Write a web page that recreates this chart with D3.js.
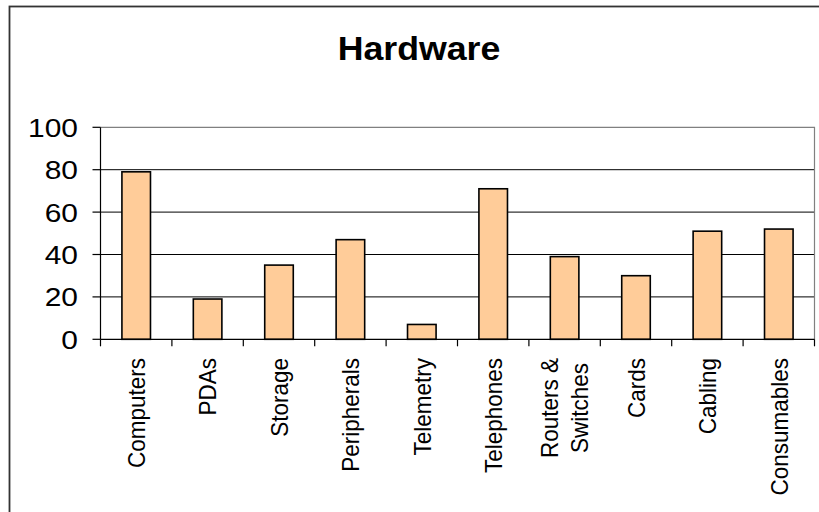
<!DOCTYPE html>
<html>
<head>
<meta charset="utf-8">
<script src="https://cdn.jsdelivr.net/npm/d3@7"></script>
<style>
  html, body { margin: 0; padding: 0; background: #fff; }
  svg { display: block; font-family: Arial, "Liberation Sans", Helvetica, sans-serif; }
</style>
</head>
<body>
<svg id="chart" width="819" height="512"></svg>
<script>
// Hardware chart data
const categories = ["Computers", "PDAs", "Storage", "Peripherals", "Telemetry",
                    "Telephones", "Routers & Switches", "Cards", "Cabling", "Consumables"];
const values = [79, 19, 35, 47, 7, 71, 39, 30, 51, 52];
const yTicks = [0, 20, 40, 60, 80, 100];
// Multi-line category labels
const categoryLines = {"Routers & Switches": ["Routers &", "Switches"]};

const svg = d3.select("#chart");
const W = 819, H = 512;

// Outer chart frame (runs past the right and bottom edges)
svg.append("rect")
  .attr("x", 9.5).attr("y", 6.5)
  .attr("width", 900).attr("height", 700)
  .attr("fill", "#fff")
  .attr("stroke", "#333").attr("stroke-width", 1.8);

// Title
svg.append("text")
  .attr("transform", "translate(419,60) scale(1.05,1)")
  .attr("text-anchor", "middle")
  .attr("font-size", 34)
  .attr("font-weight", "bold")
  .attr("fill", "#000")
  .text("Hardware");

const plot = {left: 100.5, right: 814.5, top: 127.3, bottom: 339.3};

const x = d3.scaleBand()
  .domain(categories)
  .range([plot.left, plot.right])
  .paddingInner(0.6)
  .paddingOuter(0.3);

const y = d3.scaleLinear()
  .domain([0, 100])
  .range([plot.bottom, plot.top]);

// Horizontal gridlines
svg.append("g")
  .selectAll("line")
  .data(yTicks.filter(t => t > 0 && t < 100))
  .join("line")
  .attr("x1", plot.left).attr("x2", plot.right)
  .attr("y1", d => y(d)).attr("y2", d => y(d))
  .attr("stroke", "#000").attr("stroke-width", 1);

// Plot area border (top and right)
svg.append("path")
  .attr("d", `M${plot.left},${y(100)}H${plot.right}V${plot.bottom}`)
  .attr("fill", "none")
  .attr("stroke", "#808080").attr("stroke-width", 1.2);

// Bars
svg.append("g")
  .selectAll("rect")
  .data(categories.map((c, i) => ({c, v: values[i]})))
  .join("rect")
  .attr("x", d => x(d.c))
  .attr("y", d => y(d.v))
  .attr("width", x.bandwidth())
  .attr("height", d => y(0) - y(d.v))
  .attr("fill", "#FFCC99")
  .attr("stroke", "#000")
  .attr("stroke-width", 1.6);

// Y axis
const yAxis = svg.append("g");
yAxis.append("line")
  .attr("x1", plot.left).attr("x2", plot.left)
  .attr("y1", plot.top).attr("y2", plot.bottom)
  .attr("stroke", "#000").attr("stroke-width", 1.2);
yAxis.selectAll("line.tick")
  .data(yTicks)
  .join("line")
  .attr("class", "tick")
  .attr("x1", plot.left - 8).attr("x2", plot.left)
  .attr("y1", d => y(d)).attr("y2", d => y(d))
  .attr("stroke", "#000").attr("stroke-width", 1.2);
yAxis.selectAll("text")
  .data(yTicks)
  .join("text")
  .attr("transform", d => `translate(78,${y(d)}) scale(1.13,1)`)
  .attr("dy", "0.36em")
  .attr("text-anchor", "end")
  .attr("font-size", 26.5)
  .attr("fill", "#000")
  .text(d => d);

// X axis
const step = x.step();
const xAxis = svg.append("g");
xAxis.append("line")
  .attr("x1", plot.left).attr("x2", plot.right)
  .attr("y1", plot.bottom).attr("y2", plot.bottom)
  .attr("stroke", "#000").attr("stroke-width", 1.2);
xAxis.selectAll("line.tick")
  .data(d3.range(categories.length + 1))
  .join("line")
  .attr("class", "tick")
  .attr("x1", i => plot.left + i * step).attr("x2", i => plot.left + i * step)
  .attr("y1", plot.bottom).attr("y2", plot.bottom + 7)
  .attr("stroke", "#000").attr("stroke-width", 1.2);

// Rotated category labels
const labelFont = 22.5, lineGap = 30;
const labels = xAxis.selectAll("g.label")
  .data(categories)
  .join("g")
  .attr("class", "label")
  .attr("transform", c => `translate(${x(c) + x.bandwidth() / 2},358) scale(1.08,1) rotate(-90)`);
labels.each(function(c) {
  const lines = categoryLines[c] || [c];
  const g = d3.select(this);
  lines.forEach((t, k) => {
    const offset = (k - (lines.length - 1) / 2) * lineGap / 1.08;
    g.append("text")
      .attr("x", 0)
      .attr("y", offset)
      .attr("dy", "0.36em")
      .attr("text-anchor", lines.length > 1 ? "middle" : "end")
      .attr("font-size", labelFont)
      .attr("fill", "#000")
      .text(t);
  });
});
// Multi-line labels are centred on each other, then right-aligned as a block
labels.filter(c => categoryLines[c]).each(function() {
  const g = d3.select(this);
  const texts = g.selectAll("text");
  let maxW = 0;
  texts.each(function() { maxW = Math.max(maxW, this.getComputedTextLength()); });
  texts.attr("x", -maxW / 2);
});
</script>
</body>
</html>
